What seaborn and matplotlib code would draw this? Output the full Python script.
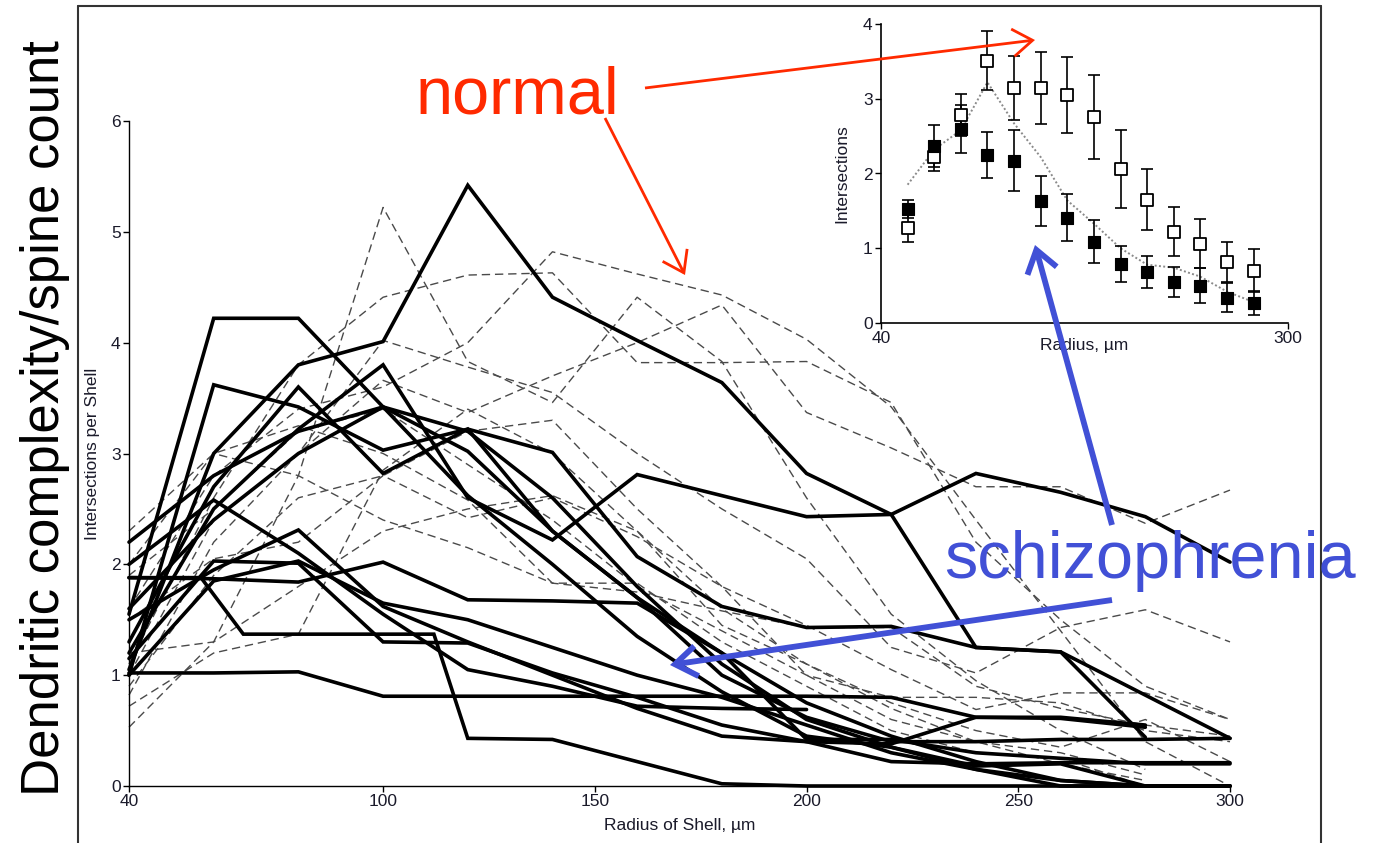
import matplotlib
matplotlib.use("Agg")
import matplotlib.pyplot as plt
import pandas as pd
import seaborn as sns
from matplotlib.patches import FancyArrowPatch
from matplotlib.lines import Line2D

# ---------------- data ----------------
RADIUS = [40, 60, 80, 100, 120, 140, 160, 180, 200, 220, 240, 260, 280, 300]
NA = None

# schizophrenia neurons (solid black)
schiz_01 = [1.05, 3.00, 3.80, 4.01, 5.42, 4.41, 4.02, 3.64, 2.82, 2.45, 1.25, 1.21, 0.44, NA]
schiz_02 = [1.55, 4.22, 4.22, 3.42, 3.02, 2.30, 1.70, 1.20, 0.75, 0.45, 0.22, 0.05, 0.00, 0.00]
schiz_03 = [1.00, 3.62, 3.42, 3.03, 3.22, 3.01, 2.07, 1.62, 1.43, 1.44, 1.25, 1.21, 0.82, 0.43]
schiz_04 = [1.20, 2.50, 3.22, 3.80, 2.60, 2.22, 2.81, 2.62, 2.43, 2.45, 2.82, 2.65, 2.43, 2.02]
schiz_05 = [1.30, 2.70, 3.60, 2.82, 3.22, 2.30, 1.70, 1.00, 0.62, 0.40, 0.40, 0.42, 0.42, 0.43]
schiz_06 = [2.20, 2.80, 3.20, 3.42, 2.62, 2.00, 1.35, 0.85, 0.45, 0.35, 0.18, 0.20, 0.00, 0.00]
schiz_07_r = [40, 57, 67, 100, 112, 120, 140, 160, 180, 200, 220, 240, 260, 280, 300]
schiz_07 = [1.88, 1.88, 1.37, 1.37, 1.37, 0.43, 0.42, 0.22, 0.02, 0.00, 0.00, 0.00, 0.00, 0.00, 0.00]
schiz_08 = [1.02, 1.02, 1.03, 0.81, 0.81, 0.81, 0.81, 0.81, 0.81, 0.80, 0.62, 0.61, 0.53, NA]
schiz_09 = [1.88, 1.87, 1.84, 2.02, 1.68, 1.67, 1.65, 1.20, 0.42, 0.42, 0.30, 0.25, 0.20, 0.20]
schiz_10 = [1.50, 1.95, 2.31, 1.62, 1.30, 1.00, 0.70, 0.45, 0.40, 0.38, 0.62, 0.62, 0.55, NA]
schiz_11 = [2.00, 2.58, 2.10, 1.55, 1.05, 0.90, 0.72, 0.70, 0.69, NA, NA, NA, NA, NA]
schiz_12 = [1.15, 2.03, 2.01, 1.30, 1.29, 1.02, 0.80, 0.55, 0.40, 0.22, 0.20, 0.21, 0.21, 0.21]
schiz_13 = [1.60, 2.40, 3.00, 3.42, 3.20, 2.60, 1.80, 1.10, 0.60, 0.35, 0.15, 0.00, 0.00, 0.00]
schiz_14 = [1.00, 1.85, 2.03, 1.65, 1.50, 1.25, 1.00, 0.80, 0.55, 0.30, 0.15, 0.05, 0.00, 0.00]

# normal neurons (dashed grey)
normal_01 = [0.53, 1.30, 2.80, 5.22, 3.83, 3.46, 4.41, 3.83, 2.60, 1.55, 0.95, 0.50, 0.15, NA]
normal_02 = [1.10, 2.60, 3.80, 4.41, 4.61, 4.63, 3.82, 3.82, 3.83, 3.46, 2.20, 1.50, 0.90, 0.60]
normal_03 = [1.00, 2.40, 3.00, 3.66, 3.37, 3.70, 4.00, 4.34, 3.37, 3.05, 2.70, 2.70, 2.37, 2.67]
normal_04 = [1.60, 2.80, 3.40, 3.60, 4.00, 4.82, 4.62, 4.43, 4.03, 3.42, 2.40, 1.40, 0.40, 0.00]
normal_05 = [0.82, 2.20, 3.00, 4.02, 3.78, 3.55, 3.00, 2.50, 2.05, 1.25, 1.02, 1.43, 1.59, 1.30]
normal_06 = [1.50, 2.05, 2.20, 2.80, 2.42, 2.60, 2.25, 1.80, 1.45, 1.05, 0.69, 0.84, 0.84, 0.60]
normal_07 = [0.72, 1.20, 1.37, 2.85, 3.40, 3.00, 2.30, 1.60, 1.10, 0.75, 0.50, 0.35, 0.60, 0.22]
normal_08 = [2.00, 3.00, 2.80, 2.40, 2.15, 1.83, 1.75, 1.58, 1.43, 1.43, 0.90, 0.70, 0.55, 0.45]
normal_09 = [1.20, 1.30, 1.80, 2.30, 2.50, 2.62, 2.30, 1.45, 1.10, 0.70, 0.40, 0.20, 0.05, NA]
normal_10 = [1.90, 2.50, 3.20, 3.40, 2.90, 2.40, 1.80, 1.40, 1.00, 0.80, 0.80, 0.75, 0.50, 0.40]
normal_11 = [2.30, 3.00, 3.25, 3.00, 2.58, 1.83, 1.83, 1.30, 0.90, 0.50, 0.30, 0.25, 0.00, NA]
normal_12 = [0.90, 1.90, 2.60, 2.80, 3.20, 3.30, 2.50, 1.80, 1.00, 0.60, 0.40, 0.30, 0.10, NA]

# inset: group means with error bars
INSET_RADIUS = [57, 74, 91, 108, 125, 142, 159, 176, 193, 210, 227, 244, 261, 278]
inset_normal_mean = [1.27, 2.22, 2.78, 3.51, 3.14, 3.14, 3.05, 2.76, 2.06, 1.65, 1.22, 1.06, 0.82, 0.70]
inset_normal_err = [0.19, 0.18, 0.28, 0.39, 0.43, 0.48, 0.51, 0.56, 0.52, 0.41, 0.33, 0.33, 0.27, 0.29]
inset_schiz_mean = [1.53, 2.37, 2.60, 2.25, 2.17, 1.63, 1.41, 1.09, 0.79, 0.68, 0.55, 0.50, 0.34, 0.27]
inset_schiz_err = [0.12, 0.28, 0.32, 0.31, 0.41, 0.33, 0.31, 0.29, 0.24, 0.21, 0.20, 0.23, 0.19, 0.16]
inset_dotted = [1.85, 2.32, 2.58, 3.22, 2.67, 2.22, 1.64, 1.33, 1.00, 0.78, 0.74, 0.62, 0.42, 0.28]

MAIN_XTICKS = [40, 100, 150, 200, 250, 300]
MAIN_YTICKS = [0, 1, 2, 3, 4, 5, 6]
INSET_XTICKS = [40, 300]
INSET_YTICKS = [0, 1, 2, 3, 4]

# ---------------- styling ----------------
sns.set_theme(style="ticks")
SMALL = ["Liberation Sans Narrow", "Liberation Sans", "DejaVu Sans"]
BIG = ["Liberation Sans", "DejaVu Sans"]
plt.rcParams["font.family"] = SMALL
plt.rcParams["axes.unicode_minus"] = False

W, H = 1380, 843
fig = plt.figure(figsize=(W / 100, H / 100), dpi=100)
fig.patch.set_facecolor("white")


def fx(px):
    return px / W


def fy(py):
    return 1 - py / H


def to_frame(series, group):
    rows = []
    for name, (radii, vals) in series.items():
        for r, v in zip(radii, vals):
            if v is not None:
                rows.append({"neuron": name, "group": group, "radius": r, "value": v})
    return pd.DataFrame(rows)


schiz = {
    "s01": (RADIUS, schiz_01), "s02": (RADIUS, schiz_02), "s03": (RADIUS, schiz_03),
    "s04": (RADIUS, schiz_04), "s05": (RADIUS, schiz_05), "s06": (RADIUS, schiz_06),
    "s07": (schiz_07_r, schiz_07), "s08": (RADIUS, schiz_08), "s09": (RADIUS, schiz_09),
    "s10": (RADIUS, schiz_10), "s11": (RADIUS, schiz_11), "s12": (RADIUS, schiz_12),
    "s13": (RADIUS, schiz_13), "s14": (RADIUS, schiz_14),
}
normal = {
    "n01": (RADIUS, normal_01), "n02": (RADIUS, normal_02), "n03": (RADIUS, normal_03),
    "n04": (RADIUS, normal_04), "n05": (RADIUS, normal_05), "n06": (RADIUS, normal_06),
    "n07": (RADIUS, normal_07), "n08": (RADIUS, normal_08), "n09": (RADIUS, normal_09),
    "n10": (RADIUS, normal_10), "n11": (RADIUS, normal_11), "n12": (RADIUS, normal_12),
}
df_s = to_frame(schiz, "schizophrenia")
df_n = to_frame(normal, "normal")

# ---------------- main axes ----------------
ax = fig.add_axes([fx(129), fy(786), (1230 - 129) / W, (786 - 121) / H])
sns.lineplot(data=df_n, x="radius", y="value", units="neuron", estimator=None,
             sort=False, color="#4a4a4a", linewidth=1.0, linestyle=(0, (6, 3.5)),
             ax=ax, legend=False, zorder=2, clip_on=False)
sns.lineplot(data=df_s, x="radius", y="value", units="neuron", estimator=None,
             sort=False, color="black", linewidth=2.6, ax=ax, legend=False,
             zorder=3, clip_on=False, solid_joinstyle="miter")
ax.set_xlim(40, 300)
ax.set_ylim(0, 6)
ax.set_xticks(MAIN_XTICKS)
ax.set_yticks(MAIN_YTICKS)
ax.set_xticklabels([str(t) for t in MAIN_XTICKS])
ax.set_yticklabels([str(t) for t in MAIN_YTICKS])
for s in ("top", "right"):
    ax.spines[s].set_visible(False)
for s in ("left", "bottom"):
    ax.spines[s].set_linewidth(1.0)
    ax.spines[s].set_color("black")
ax.tick_params(direction="out", length=4, width=1.0, labelsize=12.5,
               colors="black", labelcolor="#1a1a2a", pad=2)
ax.set_xlabel("Radius of Shell, µm", fontsize=12.5, labelpad=6, color="#1a1a2a")
ax.set_ylabel("Intersections per Shell", fontsize=12.5, labelpad=8, color="#1a1a2a")
ax.set_facecolor("none")

# ---------------- inset axes ----------------
axi = fig.add_axes([fx(881), fy(323), (1288 - 881) / W, (323 - 24) / H])
inset_line = pd.DataFrame({"radius": INSET_RADIUS, "value": inset_dotted})
sns.lineplot(data=inset_line, x="radius", y="value", ax=axi, color="#8a8a8a",
             linewidth=1.4, linestyle=(0, (1, 1.2)), legend=False, zorder=1)
axi.errorbar(INSET_RADIUS, inset_normal_mean, yerr=inset_normal_err, fmt="none",
             ecolor="black", elinewidth=1.2, capsize=4.6, capthick=1.2, zorder=2)
axi.errorbar(INSET_RADIUS, inset_schiz_mean, yerr=inset_schiz_err, fmt="none",
             ecolor="black", elinewidth=1.2, capsize=4.6, capthick=1.2, zorder=2)
inset_n = pd.DataFrame({"radius": INSET_RADIUS, "value": inset_normal_mean})
inset_s = pd.DataFrame({"radius": INSET_RADIUS, "value": inset_schiz_mean})
sns.scatterplot(data=inset_n, x="radius", y="value", ax=axi, marker="s", s=64,
                facecolor="white", edgecolor="black", linewidth=1.3, zorder=3, legend=False)
sns.scatterplot(data=inset_s, x="radius", y="value", ax=axi, marker="s", s=72,
                color="black", edgecolor="black", linewidth=0.8, zorder=4, legend=False)
axi.set_xlim(40, 300)
axi.set_ylim(0, 4)
axi.set_xticks(INSET_XTICKS)
axi.set_yticks(INSET_YTICKS)
axi.set_xticklabels([str(t) for t in INSET_XTICKS])
axi.set_yticklabels([str(t) for t in INSET_YTICKS])
for s in ("top", "right"):
    axi.spines[s].set_visible(False)
for s in ("left", "bottom"):
    axi.spines[s].set_linewidth(1.2)
    axi.spines[s].set_color("black")
axi.tick_params(direction="out", length=4, width=1.0, labelsize=12.5,
                colors="black", labelcolor="#1a1a2a", pad=2)
axi.set_xlabel("Radius, µm", fontsize=12.5, labelpad=-6, color="#1a1a2a")
axi.set_ylabel("Intersections", fontsize=12.5, labelpad=10, color="#1a1a2a")
axi.set_facecolor("none")

# ---------------- frame ----------------
FRAME = "#333333"
for xs, ys in (([78, 78], [6, 843]), ([78, 1321], [6, 6]), ([1321, 1321], [6, 843])):
    fig.add_artist(Line2D([fx(x) for x in xs], [fy(y) for y in ys],
                          transform=fig.transFigure, color=FRAME, linewidth=1.5))

# ---------------- annotations ----------------
RED = "#ff2a00"
BLUE = "#4150d6"
fig.text(fx(45), fy(418), "Dendritic complexity/spine count", rotation=90,
         fontsize=38, ha="center", va="center", color="black", family=BIG)
fig.text(fx(416), fy(113), "normal", fontsize=48, color=RED, ha="left",
         va="baseline", family=BIG, zorder=10)
fig.text(fx(944), fy(578), "schizophrenia", fontsize=48, color=BLUE, ha="left",
         va="baseline", family=BIG, zorder=10)


def arrow(tail, head, color, lw, hl, hw, scale):
    fig.add_artist(FancyArrowPatch(
        (fx(tail[0]), fy(tail[1])), (fx(head[0]), fy(head[1])),
        transform=fig.transFigure,
        arrowstyle=f"->,head_length={hl},head_width={hw}",
        mutation_scale=scale, color=color, linewidth=lw,
        shrinkA=0, shrinkB=0, zorder=11, capstyle="butt", joinstyle="miter"))


arrow((645, 88), (1035, 40), RED, 2.0, 0.65, 0.45, 22)
arrow((605, 118), (685, 275), RED, 2.0, 0.65, 0.45, 22)
arrow((1112, 525), (1035, 245), BLUE, 4.2, 0.6, 0.42, 26)
arrow((1112, 600), (670, 665), BLUE, 4.2, 0.6, 0.42, 26)

fig.savefig("out.png", dpi=100, facecolor="white")
